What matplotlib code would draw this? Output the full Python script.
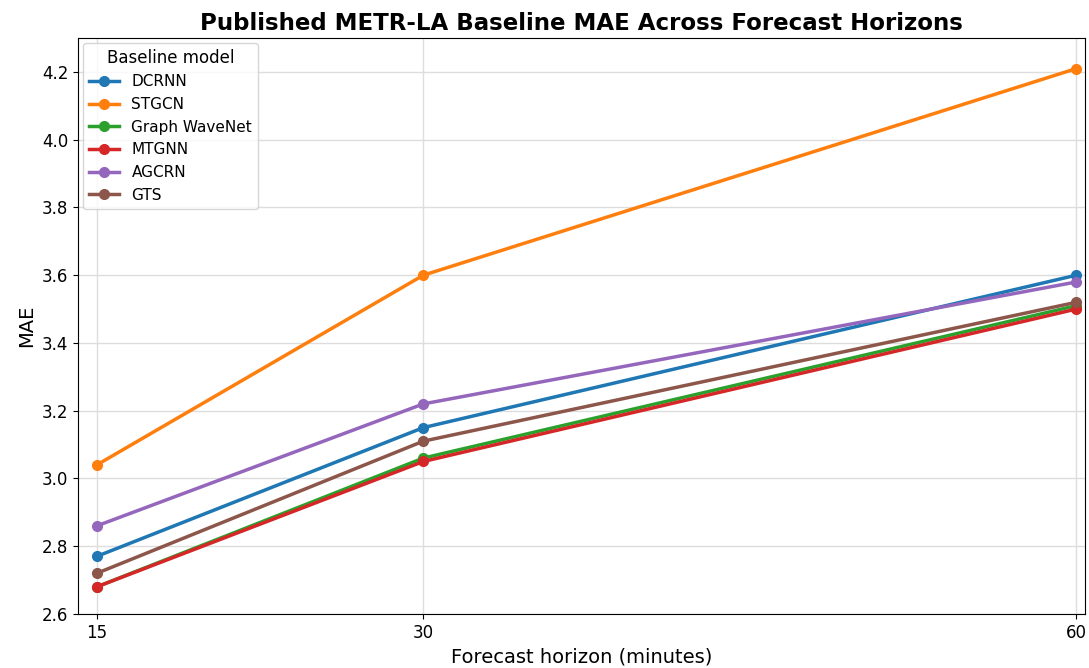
import matplotlib
import numpy as np
import matplotlib.pyplot as plt
matplotlib.use('Agg')

horizons = [15, 30, 60]

dcrnn = [2.77, 3.15, 3.60]
stgcn = [3.04, 3.60, 4.21]
gwnet = [2.68, 3.06, 3.51]
mtgnn = [2.68, 3.05, 3.50]
agcrn = [2.86, 3.22, 3.58]
gts = [2.72, 3.11, 3.52]

models = ['DCRNN', 'STGCN', 'Graph WaveNet', 'MTGNN', 'AGCRN', 'GTS']
series = [dcrnn, stgcn, gwnet, mtgnn, agcrn, gts]
colors = ['#1f77b4', '#ff7f0e', '#2ca02c', '#d62728', '#9467bd', '#8c564b']


def main():
    fig = plt.figure(figsize=(10.89, 6.68), dpi=100)
    ax = fig.add_axes([0.0716, 0.081, 0.925, 0.862])

    for name, vals, c in zip(models, series, colors):
        ax.plot(horizons, vals, marker='o', lw=2.5, ms=7, color=c, label=name)

    ax.set_xlim(14.13, 60.41)
    ax.set_ylim(2.6, 4.3)
    ax.set_xticks(horizons)
    ax.set_yticks(np.arange(2.6, 4.21, 0.2))
    ax.tick_params(labelsize=12)
    ax.grid(color='#dddddd', lw=1)
    ax.set_axisbelow(True)

    ax.set_title("Published METR-LA Baseline MAE Across Forecast Horizons",
                 fontsize=16.5, fontweight='bold')
    ax.set_xlabel("Forecast horizon (minutes)", fontsize=14)
    ax.set_ylabel("MAE", fontsize=14)
    ax.legend(title='Baseline model', fontsize=11, title_fontsize=12,
              loc='upper left', borderaxespad=0.3)

    fig.savefig('out.png', dpi=100)


main()
